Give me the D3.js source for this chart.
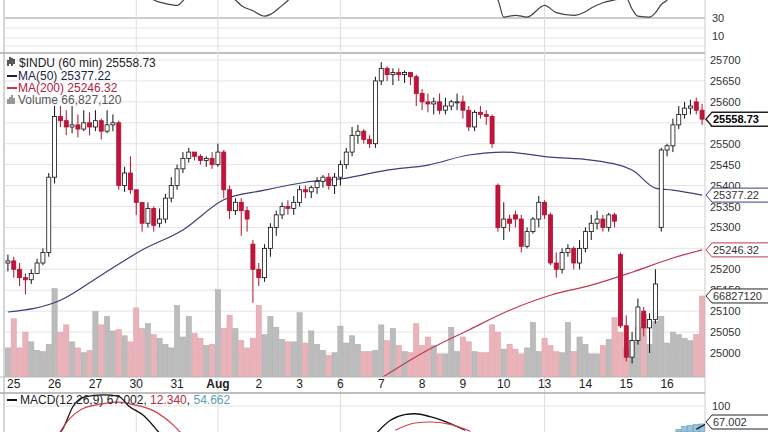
<!DOCTYPE html>
<html><head><meta charset="utf-8">
<script src="https://cdn.jsdelivr.net/npm/d3@7"></script>
<style>body{margin:0;background:#fff}svg{font-family:Arial,"Liberation Sans",sans-serif}</style>
</head><body><svg id="c" width="768" height="432"></svg>
<script>
const dayLabels=["25","26","27","30","31","Aug","2","3","6","7","8","9","10","13","14","15","16"];
const opens=[25215,25220,25200,25180,25175,25190,25215, 25240,25420,25565,25555,25540,25545,25535,
25550,25540,25555,25530,25545,25550,25400, 25430,25390,25360,25310,25345,25310,25320,
25370,25400,25440,25465,25480,25470,25460, 25465,25450,25480,25390,25340,25360,25340,
25260,25200,25180,25250,25300,25330,25350, 25345,25360,25390,25385,25395,25410,25420,
25400,25420,25450,25480,25520,25530,25510, 25500,25650,25680,25665,25670,25665,25670,
25660,25620,25600,25595,25600,25580,25590, 25600,25600,25580,25540,25575,25570,25565,
25400,25300,25320,25330,25320,25255,25290, 25320,25360,25330,25215,25200,25240,25250,
25215,25250,25290,25310,25320,25300,25330, 25235,25065,24990,25030,25100,25060,25080,
25300,25485,25495,25545,25570,25585,25600,25580];
const closes=[25220,25200,25180,25175,25190,25215,25240, 25420,25565,25555,25540,25545,25535,25550,
25540,25555,25530,25545,25550,25400,25430, 25390,25360,25310,25345,25305,25320,25370,
25400,25440,25465,25480,25470,25460,25465, 25450,25480,25390,25340,25360,25340,25320,
25200,25180,25250,25300,25330,25350,25345, 25360,25390,25385,25395,25410,25420,25400,
25420,25450,25480,25520,25530,25510,25500, 25650,25680,25665,25670,25665,25670,25660,
25620,25600,25595,25600,25580,25590,25600, 25600,25580,25540,25575,25570,25565,25500,
25300,25320,25310,25320,25255,25290,25320, 25360,25330,25215,25200,25240,25250,25215,
25250,25290,25310,25320,25300,25330,25315, 25065,24990,25030,25110,25060,25080,25165,
25485,25495,25545,25570,25585,25590,25580,25558.73];
const highs=[25235,25230,25215,25190,25200,25225,25250, 25430,25590,25590,25580,25590,25570,25580,
25575,25580,25560,25580,25570,25555,25445, 25470,25380,25350,25360,25350,25345,25380,
25420,25450,25480,25490,25480,25475,25470, 25480,25500,25485,25400,25370,25370,25350,
25270,25215,25260,25310,25340,25360,25365, 25375,25400,25400,25400,25420,25425,25430,
25430,25460,25490,25540,25545,25535,25520, 25660,25695,25685,25680,25680,25675,25670,
25665,25630,25620,25610,25620,25610,25605, 25620,25615,25590,25580,25590,25580,25570,
25405,25360,25330,25340,25330,25300,25325, 25375,25365,25335,25240,25250,25260,25255,
25270,25300,25330,25340,25330,25335,25335, 25240,25090,25050,25130,25110,25095,25200,
25490,25500,25560,25590,25600,25605,25610,25595];
const lows=[25195,25180,25160,25140,25165,25190,25210, 25230,25405,25540,25520,25525,25515,25530,
25520,25530,25510,25525,25530,25390,25385, 25380,25330,25290,25300,25290,25300,25310,
25360,25390,25430,25455,25460,25450,25445, 25440,25445,25370,25320,25330,25280,25290,
25120,25160,25170,25230,25280,25320,25330, 25330,25350,25370,25370,25380,25395,25390,
25380,25400,25440,25470,25500,25500,25490, 25490,25640,25650,25640,25650,25645,25640,
25590,25580,25575,25570,25570,25570,25580, 25580,25560,25530,25530,25560,25545,25490,
25290,25270,25290,25300,25240,25250,25285, 25300,25320,25210,25180,25190,25230,25200,
25200,25240,25270,25295,25290,25290,25300, 25060,24980,24975,25020,25040,25000,25070,
25290,25470,25480,25535,25560,25570,25570,25545];
const volumes=[24,48,24,37,29,22,21,27,73,37,43,29,24,20,22,54,43,50,38,39,34,29,57,40,44,35,32,27,24,59,33,50,36,32,26,27,72,40,51,40,30,24,32,59,35,50,41,31,29,29,53,28,38,27,22,18,20,42,28,34,27,21,21,22,43,
30,40,26,21,20,44,26,33,26,19,19,41,21,33,29,21,20,20,43,37,23,27,23,19,24,45,21,32,26,21,20,45,21,33,27,19,19,26,31,49,37,24,30,41,52,27,46,50,28,37,35,32,30,35,66.8];
const ma50=[[0,25098],[9,25126],[16,25186],[23,25246],[30,25294],[37,25366],[44,25389],[51,25408],[58,25418],[65,25437],[72,25449],[79,25473],[85,25480],[93,25468],[100,25461],[107,25437],[111,25394],[114,25389],[119,25377.22]];
const ma200=[[64,24940],[72,25007],[79,25055],[86,25102],[93,25138],[100,25162],[107,25193],[114,25227],[119,25246.32]];
const rsi=[[23,60],[25,50],[27,46],[29,44],[31,55],[37,60],[39,50],[40,44],[42,38],[44,32],[45,34],[47,44],[49,55],[50,60],[82,60],[84,50],[85,31],[87,33],[89,31],[92,44],[94,36],[97,33],[99,37],[100,41],[102,47],[104,50],[106,52],[107,40],[108,32],[110,31],[111,36],[112,45],[113,50],[114,60]];
const macd1=[[7.8,30],[9.5,55],[11.2,100],[12.9,118],[16.4,123],[19,120],[20.7,100],[23.3,80],[25.9,45],[62.9,40],[65.5,70],[68,82],[69.8,84],[72.4,78],[75,68],[78.4,50],[118,52],[119.8,64]];
const macd2=[[8.6,40],[10.3,70],[12.9,95],[16.4,105],[19,108],[21.5,103],[25,90],[28.4,60],[30,40],[66.4,50],[69.8,65],[72.4,67],[75.8,62],[79.3,48]];
const macdHist=[[115,52],[116,58],[117,60],[118,62],[119,63]];
const priceTicks=[25000,25050,25100,25150,25200,25250,25300,25350,25400,25450,25500,25550,25600,25650,25700];

const svg=d3.select("#c");
const X0=5,X1=705;
const x=d3.scaleLinear().domain([0,120]).range([X0,X1]);
const bw=(X1-X0)/120;
const cx=i=>x(i+0.5);
const y=d3.scaleLinear().domain([25000,25700]).range([353,60]);
const yv=d3.scaleLinear().domain([0,80]).range([377,280]);
const yr=d3.scaleLinear().domain([30,10]).range([18,36]);
const ym=d3.scaleLinear().domain([100,67.002]).range([406,422]);
const defs=svg.append("defs");
defs.append("clipPath").attr("id","cp").append("rect").attr("x",X0).attr("y",54).attr("width",X1-X0).attr("height",323);
defs.append("clipPath").attr("id","ct").append("rect").attr("x",X0).attr("y",0).attr("width",X1-X0).attr("height",52);
defs.append("clipPath").attr("id","cm").append("rect").attr("x",X0).attr("y",394).attr("width",X1-X0).attr("height",38);

// top panel grid
[28,38,46].forEach(v=>svg.append("line").attr("x1",X0).attr("x2",X1).attr("y1",v).attr("y2",v).attr("stroke","#e4e4e4"));
svg.append("line").attr("x1",X0).attr("x2",X1).attr("y1",yr(30)).attr("y2",yr(30)).attr("stroke","#999").attr("stroke-width",1.2);
svg.append("line").attr("x1",0).attr("x2",X1).attr("y1",53).attr("y2",53).attr("stroke","#aaa").attr("stroke-width",1.5);
svg.append("text").attr("x",712).attr("y",yr(30)+4).attr("font-size",11).attr("fill","#333").text("30");
svg.append("text").attr("x",712).attr("y",yr(10)+4).attr("font-size",11).attr("fill","#333").text("10");

// price grid
priceTicks.forEach(t=>{svg.append("line").attr("x1",X0).attr("x2",X1).attr("y1",y(t)).attr("y2",y(t)).attr("stroke","#e4e4e4");});
const vg=[3,5,8,13];
vg.forEach(d=>{const xx=x(d*7+1.5);svg.append("line").attr("x1",xx).attr("x2",xx).attr("y1",0).attr("y2",432).attr("stroke","#ddd");});
svg.append("line").attr("x1",X0-1).attr("x2",X0-1).attr("y1",0).attr("y2",432).attr("stroke","#aaa");
svg.append("line").attr("x1",X1).attr("x2",X1).attr("y1",0).attr("y2",432).attr("stroke","#ccc");

// rsi line
svg.append("path").attr("clip-path","url(#ct)").datum(rsi).attr("fill","none").attr("stroke","#444").attr("stroke-width",1.2)
 .attr("d",d3.line().x(d=>cx(d[0])).y(d=>yr(d[1])).curve(d3.curveMonotoneX));

const g=svg.append("g").attr("clip-path","url(#cp)");
// volume
g.selectAll(".v").data(volumes).join("rect").attr("x",(d,i)=>x(i)+0.3).attr("width",bw-0.6)
 .attr("y",d=>yv(d)).attr("height",d=>yv(0)-yv(d))
 .attr("fill",(d,i)=>closes[i]<opens[i]?"#eab3ba":"#bcbcbc").attr("stroke",(d,i)=>closes[i]<opens[i]?"#dc9aa4":"#a8a8a8").attr("stroke-width",0.5);
// MAs
g.append("path").datum(ma50).attr("fill","none").attr("stroke","#3c3f7a").attr("stroke-width",1.2)
 .attr("d",d3.line().x(d=>cx(d[0])).y(d=>y(d[1])).curve(d3.curveMonotoneX));
g.append("path").datum(ma200).attr("fill","none").attr("stroke","#c0394f").attr("stroke-width",1.2)
 .attr("d",d3.line().x(d=>cx(d[0])).y(d=>y(d[1])).curve(d3.curveMonotoneX));
// candles
const idx=d3.range(closes.length);
g.selectAll(".w").data(idx).join("line").attr("x1",cx).attr("x2",cx).attr("y1",i=>y(highs[i])).attr("y2",i=>y(lows[i]))
 .attr("stroke",i=>closes[i]<opens[i]?"#b0102e":"#111").attr("stroke-width",1);
g.selectAll(".b").data(idx).join("rect").attr("x",i=>x(i)+0.9).attr("width",bw-1.8)
 .attr("y",i=>y(Math.max(opens[i],closes[i]))).attr("height",i=>Math.max(1,Math.abs(y(opens[i])-y(closes[i]))))
 .attr("fill",i=>closes[i]<opens[i]?"#c0143c":"#fff").attr("stroke",i=>closes[i]<opens[i]?"#b0102e":"#111").attr("stroke-width",0.8);

// price axis labels
priceTicks.forEach(t=>svg.append("text").attr("x",710).attr("y",y(t)+4).attr("font-size",11).attr("fill","#333").text(t));
// tags
function tag(yy,txt,col,bold){
 const w=bold?58:60;
 svg.append("path").attr("d",`M706,${yy} l6,-7 h${w} v14 h-${w} z`).attr("fill","#fff").attr("stroke",col).attr("stroke-width",bold?1.5:1);
 svg.append("text").attr("x",713).attr("y",yy+4).attr("font-size",11).attr("font-weight",bold?"bold":"normal").attr("fill",bold?"#000":"#333").text(txt);
}
tag(y(25558.73),"25558.73","#222",true);
tag(y(25377.22),"25377.22","#3c3f7a",false);
tag(y(25246.32),"25246.32","#c0394f",false);
tag(yv(66.827),"66827120","#222",false);

// date labels
svg.append("line").attr("x1",0).attr("x2",X1).attr("y1",377).attr("y2",377).attr("stroke","#bbb");
dayLabels.forEach((d,k)=>svg.append("text").attr("x",x(k*7+1.5)).attr("y",388).attr("text-anchor","middle").attr("font-size",12)
 .attr("font-weight",d==="Aug"?"bold":"normal").attr("fill","#222").text(d));

// legend
const lg=svg.append("g").attr("font-size",12);
lg.append("text").attr("x",19).attr("y",67).attr("fill","#222").text("$INDU (60 min) 25558.73");
lg.append("path").attr("d","M8,66 v-6 M10,64 v-7 M12,66 v-8 M14,64 v-5").attr("stroke","#222").attr("stroke-width",1.5);
lg.append("line").attr("x1",7).attr("x2",17).attr("y1",76).attr("y2",76).attr("stroke","#1c1f4a").attr("stroke-width",2);
lg.append("text").attr("x",18).attr("y",80).attr("fill","#1c1f4a").text("MA(50) 25377.22");
lg.append("line").attr("x1",7).attr("x2",17).attr("y1",88).attr("y2",88).attr("stroke","#c0394f").attr("stroke-width",2);
lg.append("text").attr("x",18).attr("y",92).attr("fill","#b02040").text("MA(200) 25246.32");
lg.append("path").attr("d","M8,104 v-5 M10,104 v-7 M12,104 v-9 M14,104 v-6").attr("stroke","#777").attr("stroke-width",1.5);
lg.append("text").attr("x",18).attr("y",104).attr("fill","#555").text("Volume 66,827,120");

// MACD panel
svg.append("line").attr("x1",0).attr("x2",X1).attr("y1",393).attr("y2",393).attr("stroke","#aaa").attr("stroke-width",1.5);
svg.append("line").attr("x1",X0).attr("x2",X1).attr("y1",ym(100)).attr("y2",ym(100)).attr("stroke","#e4e4e4");
const mg=svg.append("g").attr("clip-path","url(#cm)");
mg.selectAll(".h").data(macdHist).join("rect").attr("x",d=>x(d[0])).attr("width",bw-0.5).attr("y",d=>ym(d[1])).attr("height",d=>432-ym(d[1]))
 .attr("fill","#9cc3dc").attr("stroke","#5a8fb0").attr("stroke-width",0.5);
const ml=d3.line().x(d=>cx(d[0])).y(d=>ym(d[1])).curve(d3.curveMonotoneX);
mg.append("path").datum(macd1.slice(0,9)).attr("fill","none").attr("stroke","#111").attr("stroke-width",1.3).attr("d",ml);
mg.append("path").datum(macd1.slice(9,16)).attr("fill","none").attr("stroke","#111").attr("stroke-width",1.3).attr("d",ml);
mg.append("path").datum(macd1.slice(16)).attr("fill","none").attr("stroke","#111").attr("stroke-width",1.3).attr("d",ml);
mg.append("path").datum(macd2.slice(0,9)).attr("fill","none").attr("stroke","#d04050").attr("stroke-width",1.2).attr("d",ml);
mg.append("path").datum(macd2.slice(9)).attr("fill","none").attr("stroke","#d04050").attr("stroke-width",1.2).attr("d",ml);
svg.append("line").attr("x1",7).attr("x2",17).attr("y1",400).attr("y2",400).attr("stroke","#111").attr("stroke-width",2);
const mt=svg.append("text").attr("x",20).attr("y",404).attr("font-size",12);
mt.append("tspan").attr("fill","#222").text("MACD(12,26,9) 67.002, ");
mt.append("tspan").attr("fill","#b03040").text("12.340");
mt.append("tspan").attr("fill","#222").text(", ");
mt.append("tspan").attr("fill","#5a9fb0").text("54.662");
svg.append("text").attr("x",712).attr("y",ym(100)+4).attr("font-size",11).attr("fill","#333").text("100");
tag(ym(67.002),"67.002","#222",false);
</script></body></html>
